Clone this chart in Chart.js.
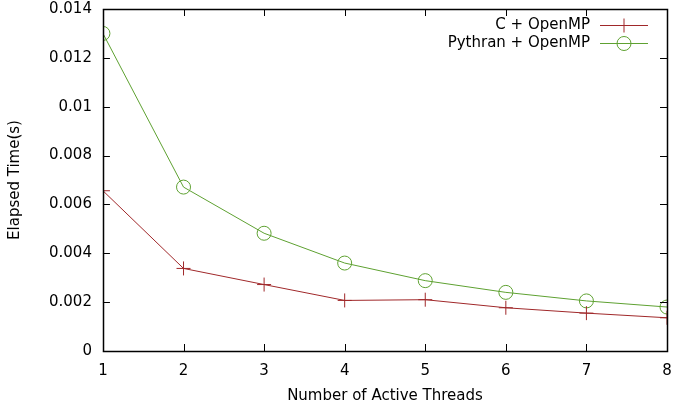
<!DOCTYPE html>
<html>
<head>
<meta charset="utf-8">
<script src="https://cdn.jsdelivr.net/npm/chart.js@4/dist/chart.umd.min.js"></script>
<style>
  html, body { margin: 0; padding: 0; background: #fff; }
  #wrap { width: 673px; height: 406px; }
</style>
</head>
<body>
<div id="wrap"><canvas id="mycanvas"></canvas></div>
<script>
var threads = [1, 2, 3, 4, 5, 6, 7, 8];
var cOpenmp = [0.00656, 0.00338, 0.00272, 0.00207, 0.00210, 0.00177, 0.00155, 0.00136];
var pythranOpenmp = [0.01300, 0.00671, 0.00482, 0.00360, 0.00288, 0.00240, 0.00205, 0.00180];
var seriesLabels = ["C + OpenMP", "Pythran + OpenMP"];
var yTicks = [0, 0.002, 0.004, 0.006, 0.008, 0.01, 0.012, 0.014];

var red = "#a0282a";
var green = "#5ea131";
var font = "'DejaVu Sans', sans-serif";
var fsize = 15;

function pts(vals) {
  var out = [];
  for (var i in threads) {
    out.push({ x: threads[i], y: vals[i] });
  }
  return out;
}

// gnuplot style frame: border box, inward ticks on all sides, legend top right
var gnuplotFrame = {
  id: "gnuplotFrame",
  afterDraw: function(chart) {
    var ctx = chart.ctx;
    var a = chart.chartArea;
    var xs = chart.scales.x, ys = chart.scales.y;
    var t = 7;
    ctx.save();
    ctx.strokeStyle = "#000";
    ctx.lineWidth = 1;
    ctx.beginPath();
    for (var i in threads) {
      var px = Math.round(xs.getPixelForValue(threads[i])) + 0.5;
      ctx.moveTo(px, a.bottom); ctx.lineTo(px, a.bottom - t);
      ctx.moveTo(px, a.top); ctx.lineTo(px, a.top + t);
    }
    for (var j in yTicks) {
      var py = Math.round(ys.getPixelForValue(yTicks[j])) + 0.5;
      ctx.moveTo(a.left, py); ctx.lineTo(a.left + t, py);
      ctx.moveTo(a.right, py); ctx.lineTo(a.right - t, py);
    }
    ctx.stroke();
    ctx.lineWidth = 1.5;
    ctx.strokeRect(Math.round(a.left) + 0.5, Math.round(a.top) + 0.5,
                   Math.round(a.right - a.left), Math.round(a.bottom - a.top));

    // legend
    ctx.font = fsize + "px " + font;
    ctx.textAlign = "right";
    ctx.textBaseline = "middle";
    var ds = chart.data.datasets;
    var cols = [red, green];
    for (var k = 0; k < ds.length; k++) {
      var ly = 25.5 + k * 18;
      ctx.fillStyle = "#000";
      ctx.fillText(ds[k].label, 590, ly);
      ctx.strokeStyle = cols[k];
      ctx.lineWidth = 1;
      ctx.beginPath();
      ctx.moveTo(600, ly); ctx.lineTo(648, ly);
      if (k === 0) {
        ctx.moveTo(624, ly - 7); ctx.lineTo(624, ly + 7);
      }
      ctx.stroke();
      if (k === 1) {
        ctx.beginPath();
        ctx.arc(624, ly, 7, 0, Math.PI * 2);
        ctx.stroke();
      }
    }
    ctx.restore();
  }
};

var chartdata = {
  datasets: [
    {
      label: seriesLabels[0],
      data: pts(cOpenmp),
      borderColor: red,
      backgroundColor: "rgba(0,0,0,0)",
      borderWidth: 1,
      pointStyle: "cross",
      pointRadius: 7,
      pointBorderWidth: 1,
      lineTension: 0
    },
    {
      label: seriesLabels[1],
      data: pts(pythranOpenmp),
      borderColor: green,
      backgroundColor: "rgba(0,0,0,0)",
      borderWidth: 1,
      pointStyle: "circle",
      pointRadius: 7,
      pointBorderWidth: 1,
      lineTension: 0
    }
  ]
};

var ctx = document.getElementById("mycanvas");

var LineGraph = new Chart(ctx, {
  type: "line",
  data: chartdata,
  plugins: [gnuplotFrame],
  options: {
    responsive: true,
    maintainAspectRatio: false,
    animation: { duration: 0 },
    layout: { autoPadding: false, padding: { top: 0, right: 0, left: 6, bottom: 1 } },
    plugins: {
      legend: { display: false },
      tooltip: { enabled: false }
    },
    scales: {
      x: {
        type: "linear",
        min: 1,
        max: 8,
        grid: { display: false, drawTicks: false },
        border: { display: false },
        afterBuildTicks: function(scale) {
          scale.ticks = threads.map(function(v) { return { value: v }; });
        },
        afterFit: function(scale) {
          scale.paddingRight = 6;
          scale.paddingLeft = 6;
        },
        ticks: {
          color: "#000",
          padding: 11,
          font: { family: font, size: fsize },
          maxRotation: 0
        },
        title: {
          display: true,
          text: "Number of Active Threads",
          color: "#000",
          font: { family: font, size: fsize },
          padding: { top: -4, bottom: 0 }
        }
      },
      y: {
        min: 0,
        max: 0.014,
        grid: { display: false, drawTicks: false },
        border: { display: false },
        afterBuildTicks: function(scale) {
          scale.ticks = yTicks.map(function(v) { return { value: v }; });
        },
        afterFit: function(scale) {
          scale.paddingTop = 9;
          scale.paddingBottom = 9;
        },
        ticks: {
          color: "#000",
          padding: 11,
          font: { family: font, size: fsize },
          callback: function(v) { return String(Number(v.toFixed(3))); }
        },
        title: {
          display: true,
          text: "Elapsed Time(s)",
          color: "#000",
          font: { family: font, size: fsize },
          padding: { top: 0, bottom: 14 }
        }
      }
    }
  }
});
</script>
</body>
</html>
